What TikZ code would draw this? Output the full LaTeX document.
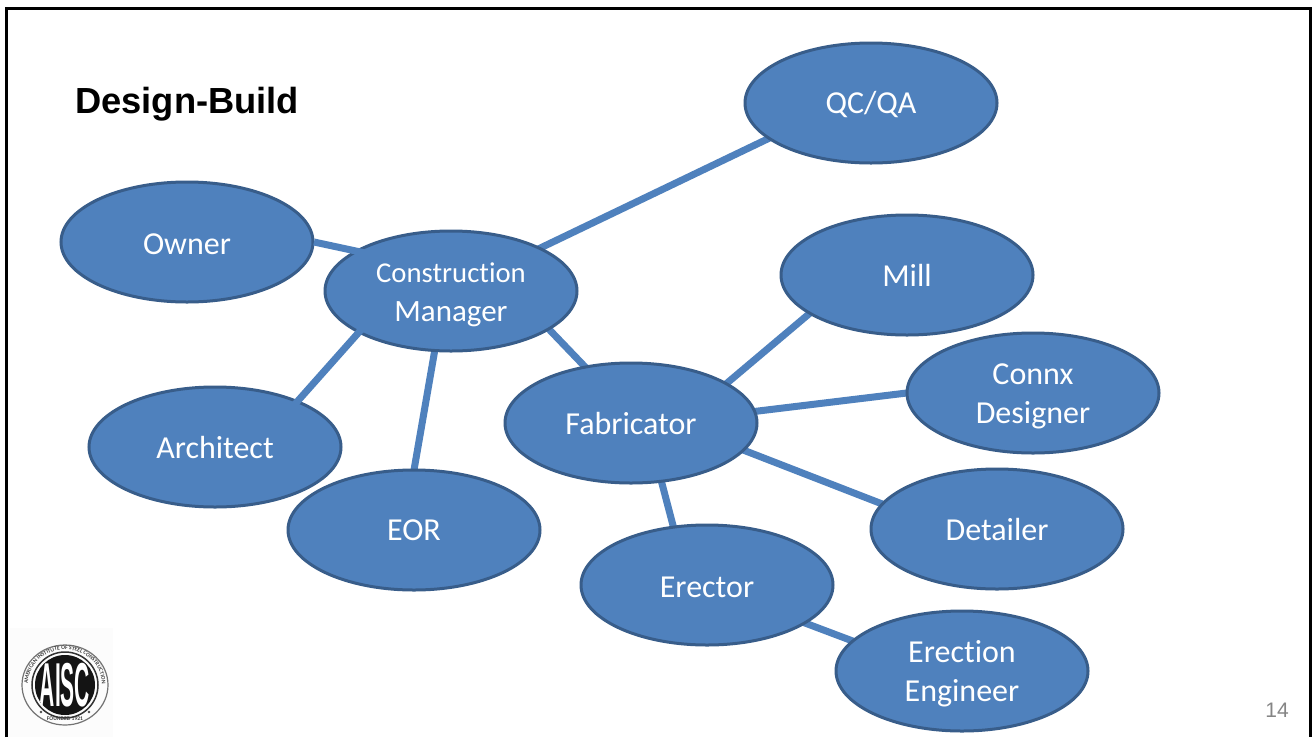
\documentclass[tikz,border=0pt]{standalone}
\usepackage{fontspec}
\setmainfont{Carlito}[Ligatures=NoCommon]
\newfontfamily\titlefont{Liberation Sans}
\usetikzlibrary{shapes.geometric,calc,decorations.text}
\pgfdeclarelayer{back}
\pgfdeclarelayer{front}
\pgfsetlayers{back,main,front}
\definecolor{fillblue}{HTML}{4F81BD}
\definecolor{edgeblue}{HTML}{385D8A}
\newcommand\dropby[2]{\raisebox{-#1pt}[\height][\depth]{#2}}
\tikzset{
  role/.style={ellipse,draw=edgeblue,fill=fillblue,line width=3pt,minimum width=252pt,minimum height=120pt,inner sep=0pt,text=white,align=center,font=\fontsize{32}{38.5}\selectfont},
  link/.style={draw=fillblue,line width=7pt}
}
\begin{document}
\begin{tikzpicture}[x=1pt,y=-1pt]
\useasboundingbox (0,0) rectangle (1312,737);
\node[role] (qc) at (871,103) {\dropby{2}{QC/QA}};
\node[role] (owner) at (187,242) {\dropby{2}{Owner}};
\node[role] (cm) at (451,291) {\dropby{4}{\fontsize{28.7}{38.5}\selectfont Construction}\\\dropby{4}{\fontsize{31}{38.5}\selectfont Manager}};
\node[role] (mill) at (907,275) {Mill};
\node[role] (connx) at (1033,393) {\dropby{3}{Connx}\\\dropby{4}{Designer}};
\node[role] (fab) at (631,423) {\dropby{1}{Fabricator}};
\node[role] (arch) at (215,447) {Architect};
\node[role] (eor) at (414,530) {EOR};
\node[role] (det) at (997,529) {Detailer};
\node[role] (erec) at (707,585) {\dropby{2}{Erector}};
\node[role] (eng) at (962,671) {\dropby{2}{Erection}\\\dropby{3}{Engineer}};
\begin{pgfonlayer}{back}
\fill[white] (0,0) rectangle (1312,737);
\fill[black!1] (10,628) rectangle (113,737);
\draw[link] ($(cm)+(81,-39)$) -- ($(qc)+(-91,30)$);
\draw[link] ($(cm)+(-16,58)$) -- ($(eor)+(0,-60)$);
\draw[link] ($(cm)+(92,32)$) -- ($(fab)+(-41,-51)$);
\draw[link] ($(fab)+(89,-34)$) -- ($(mill)+(-91,33)$);
\draw[link] ($(fab)+(119,-11)$) -- ($(connx)+(-118,-1)$);
\draw[link] ($(fab)+(107,25)$) -- ($(det)+(-107,-22)$);
\draw[link] ($(fab)+(29,53)$) -- ($(erec)+(-32,-52)$);
\draw[link] ($(erec)+(90,35)$) -- ($(eng)+(-104,-28)$);
\end{pgfonlayer}
\begin{pgfonlayer}{front}
\draw[link] ($(owner)+(127,0)$) -- ($(cm)+(-44,-29)$);
\draw[link] ($(cm)+(-83,31)$) -- ($(arch)+(73,-35)$);
\end{pgfonlayer}
\draw[black,line width=3pt] (6.5,737) -- (6.5,8.5) -- (1310,8.5) -- (1310,737);
\node[font=\titlefont\bfseries\fontsize{36.3}{40}\selectfont,anchor=base west,text=black,inner sep=0pt] (title) at (75,113) {Design-Build};
\node[font=\titlefont\fontsize{21}{24}\selectfont,text=black!48,anchor=base east,inner sep=0pt] (page) at (1289,717) {14};
\coordinate (logo) at (65,685);
\draw[black!55,line width=1.2pt] (logo) ellipse[x radius=43,y radius=40];
\draw[black!80,line width=1.5pt] (logo) circle (33);
\fill[black!92] (logo) circle (30);
\begin{scope}
\clip (logo) circle (30);
\node[font=\titlefont\bfseries\fontsize{20}{20}\selectfont,text=white,xscale=1.05,yscale=3.1,inner sep=0pt] (aisc) at (logo) {AISC};
\end{scope}
\path[decorate,decoration={text along path,text align=center,text={|\fontsize{5.6}{6}\selectfont\bfseries\color{black!75}|AMERICAN INSTITUTE OF STEEL CONSTRUCTION}}] ($(logo)+(-35,11)$) arc[start angle=199,end angle=-19,x radius=37,y radius=-35];
\node[font=\fontsize{5.6}{6}\selectfont\bfseries,text=black!75,inner sep=0pt] (founded) at ($(logo)+(0,33.5)$) {FOUNDED 1921};
\fill[black!70] ($(logo)+(-24,27)$) circle (1.3);
\fill[black!70] ($(logo)+(24,27)$) circle (1.3);
\end{tikzpicture}
\end{document}
